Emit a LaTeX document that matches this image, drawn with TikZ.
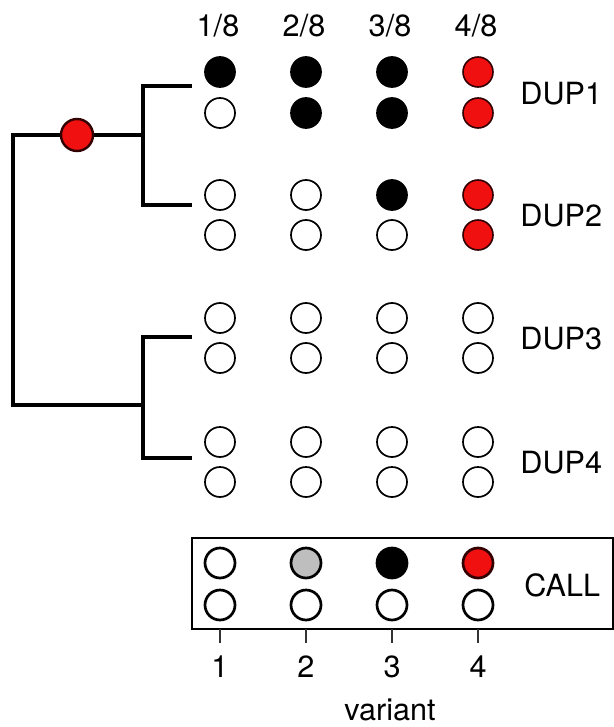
\documentclass[tikz,border=0pt]{standalone}
\usepackage{fontspec}
\setmainfont{TeX Gyre Heros}
\definecolor{mutred}{RGB}{240,16,16}
\definecolor{midgray}{RGB}{190,190,190}
\tikzset{
    dot/.style={circle, draw=black, line width=0.85pt, fill=white, minimum size=15pt, inner sep=0pt},
    hit/.style={dot, fill=black},
    dup/.style={dot, fill=mutred, draw=black!80!red, line width=0.8pt},
    half/.style={dot, fill=midgray},
    calldot/.style={line width=1.35pt},
    tree/.style={line width=2pt},
    lab/.style={font=\fontsize{15.3}{18}\selectfont, inner sep=0pt}
}
\begin{document}
\begin{tikzpicture}[x=0.5pt, y=-0.5pt]
    \useasboundingbox (0,0) rectangle (614,727);
    % Frazioni in alto
    \node[lab] (f1) at (218,26) {1/8};
    \node[lab] (f2) at (304,26) {2/8};
    \node[lab] (f3) at (390,26) {3/8};
    \node[lab] (f4) at (476,26) {4/8};
    % Albero
    \coordinate (t1) at (192,86);
    \coordinate (t2) at (192,205);
    \coordinate (t3) at (192,337);
    \coordinate (t4) at (192,458);
    \coordinate (up) at (143,135);
    \coordinate (lo) at (143,405);
    \coordinate (root) at (13,270);
    \draw[tree] (t1) -| (up) |- (t2);
    \draw[tree] (t3) -| (lo) |- (t4);
    \draw[tree] (up) -| (root) |- (lo);
    \node[dup, minimum size=16pt, line width=1.2pt] (mut) at (77,135) {};
    % DUP1
    \foreach \s [count=\i] in {hit,hit,hit,dup}
        \node[\s] (a\i) at (134+86*\i,72) {};
    \foreach \s [count=\i] in {dot,hit,hit,dup}
        \node[\s] (b\i) at (134+86*\i,113) {};
    % DUP2
    \foreach \s [count=\i] in {dot,dot,hit,dup}
        \node[\s] (c\i) at (134+86*\i,195) {};
    \foreach \s [count=\i] in {dot,dot,dot,dup}
        \node[\s] (d\i) at (134+86*\i,235) {};
    % DUP3 e DUP4
    \foreach \i in {1,...,4} {
        \node[dot] (e\i) at (134+86*\i,318) {};
        \node[dot] (g\i) at (134+86*\i,358) {};
        \node[dot] (h\i) at (134+86*\i,442) {};
        \node[dot] (k\i) at (134+86*\i,482) {};
    }
    % Etichette DUP
    \node[lab, anchor=west] (dup1) at (520,94) {DUP1};
    \node[lab, anchor=west] (dup2) at (520,216) {DUP2};
    \node[lab, anchor=west] (dup3) at (520,339) {DUP3};
    \node[lab, anchor=west] (dup4) at (520,463) {DUP4};
    % Riquadro CALL
    \draw[line width=0.75pt] (192,538) rectangle (613,629);
    \foreach \s [count=\i] in {dot,half,hit,dup}
        \node[\s, calldot] (m\i) at (134+86*\i,563) {};
    \foreach \i in {1,...,4}
        \node[dot, calldot] (n\i) at (134+86*\i,605) {};
    \node[lab, anchor=west] (call) at (524,585) {CALL};
    % Asse
    \foreach \i in {1,...,4} {
        \draw[line width=0.6pt, black!80] (134+86*\i,629) -- (134+86*\i,643);
        \node[lab] (v\i) at (134+86*\i,667) {\i};
    }
    \node[lab, anchor=base] (varlab) at (390,720) {variant};
\end{tikzpicture}
\end{document}
